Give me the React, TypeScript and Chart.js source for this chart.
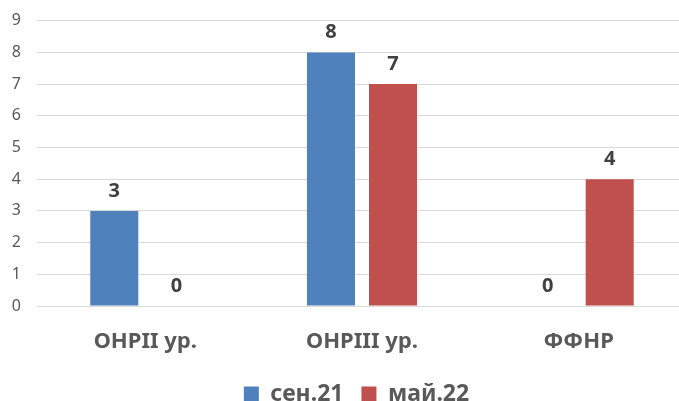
import React, { useEffect, useRef } from "react";
import { Chart, registerables } from "chart.js";

Chart.register(...registerables);

const categories = ["ОНРII ур.", "ОНРIII ур.", "ФФНР"];
const seriesNames = ["сен.21", "май.22"];
const sep21 = [3, 8, 0];
const may22 = [0, 7, 4];
const yTicks = [0, 1, 2, 3, 4, 5, 6, 7, 8, 9];

const FONT = "'Noto Sans', 'DejaVu Sans', sans-serif";

const dataLabels = {
  id: "dataLabels",
  afterDatasetsDraw(chart: any) {
    const ctx = chart.ctx;
    ctx.save();
    ctx.font = `bold 20px ${FONT}`;
    ctx.fillStyle = "#404040";
    ctx.textAlign = "center";
    ctx.textBaseline = "alphabetic";
    chart.data.datasets.forEach((ds: any, i: number) => {
      const meta = chart.getDatasetMeta(i);
      meta.data.forEach((bar: any, j: number) => {
        ctx.fillText(String(ds.data[j]), bar.x, bar.y - 14);
      });
    });
    ctx.restore();
  },
};

const legendShift = {
  id: "legendShift",
  afterLayout(chart: any) {
    const lg = chart.legend;
    if (lg) {
      lg.left += 13;
      lg.right += 13;
    }
  },
};

export default function App() {
  const ref = useRef<HTMLCanvasElement>(null);
  useEffect(() => {
    if (!ref.current) return;
    const chart = new Chart(ref.current, {
      type: "bar",
      data: {
        labels: categories,
        datasets: [
          { label: seriesNames[0], data: sep21, backgroundColor: "#4F81BD", categoryPercentage: 0.573, barPercentage: 0.774 },
          { label: seriesNames[1], data: may22, backgroundColor: "#C0504D", categoryPercentage: 0.573, barPercentage: 0.774 },
        ],
      },
      options: {
        animation: false,
        responsive: false,
        layout: { padding: { top: 20.7, right: 3, left: 0, bottom: -14.5 } },
        plugins: {
          tooltip: { enabled: false },
          legend: {
            position: "bottom",
            labels: {
              font: { family: FONT, size: 23, weight: "bold" },
              color: "#595959",
              boxWidth: 15,
              boxHeight: 15,
              padding: 18,
            },
          },
        },
        scales: {
          x: {
            grid: { display: false, drawTicks: false },
            border: { display: false },
            ticks: { font: { family: FONT, size: 22, weight: "bold" }, color: "#595959", padding: 23 },
            afterFit: (s: any) => { s.height = 58.5; },
          },
          y: {
            min: 0,
            max: 9,
            afterBuildTicks: (s: any) => { s.ticks = yTicks.map((v) => ({ value: v })); },
            grid: { color: "#D9D9D9", drawTicks: false },
            border: { display: false },
            ticks: { font: { family: FONT, size: 16 }, color: "#595959", padding: 16 },
            afterFit: (s: any) => { s.width = 37; s.paddingTop = 0; s.paddingBottom = 0; },
          },
        },
      },
      plugins: [dataLabels, legendShift],
    });
    return () => chart.destroy();
  }, []);
  return (
    <div style={{ position: "fixed", left: 0, top: 0, width: 679, height: 401, background: "#fff", overflow: "hidden" }}>
      <canvas ref={ref} width={690} height={401} />
    </div>
  );
}
